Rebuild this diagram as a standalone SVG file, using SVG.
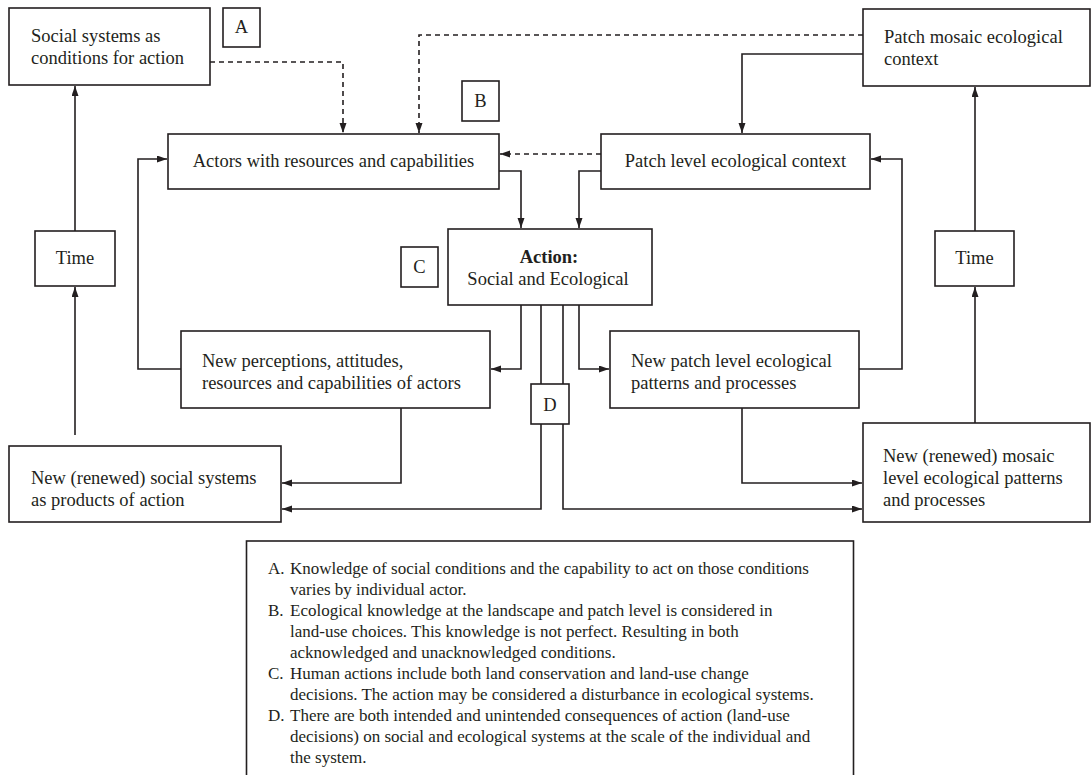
<svg xmlns="http://www.w3.org/2000/svg" width="1091" height="775" viewBox="0 0 1091 775">
<defs>
<style>
.box{fill:#fff;stroke:#231f20;stroke-width:1.6}
.t{font-family:"Liberation Serif","Times New Roman",serif;font-size:18.5px;fill:#231f20}
.c{text-anchor:middle}
.b{font-weight:bold}
.n{font-family:"Liberation Serif","Times New Roman",serif;font-size:17px;fill:#231f20}
.ln{fill:none;stroke:#231f20;stroke-width:1.6}
.dash{stroke-dasharray:5 4}
</style>
<marker id="ah" markerUnits="userSpaceOnUse" markerWidth="11" markerHeight="8" refX="10" refY="3.5" orient="auto">
<path d="M0,0 L10,3.5 L0,7 z" fill="#231f20"/>
</marker>
</defs>
<rect width="1091" height="775" fill="#fff"/>
<g id="connectors">
<path class="ln dash" d="M210,62 H343 V133" marker-end="url(#ah)"/>
<path class="ln dash" d="M863,35 H419 V133" marker-end="url(#ah)"/>
<path class="ln dash" d="M601,154 H500" marker-end="url(#ah)"/>
<path class="ln" d="M863,54 H742 V133" marker-end="url(#ah)"/>
<path class="ln" d="M499,171 H521 V228" marker-end="url(#ah)"/>
<path class="ln" d="M601,171 H579 V228" marker-end="url(#ah)"/>
<path class="ln" d="M521,305 V369 H491" marker-end="url(#ah)"/>
<path class="ln" d="M579,305 V369 H609" marker-end="url(#ah)"/>
<path class="ln" d="M541,305 V509 H282" marker-end="url(#ah)"/>
<path class="ln" d="M563,305 V509 H862" marker-end="url(#ah)"/>
<path class="ln" d="M181,369 H138 V159 H167" marker-end="url(#ah)"/>
<path class="ln" d="M859,369 H902 V159 H871" marker-end="url(#ah)"/>
<path class="ln" d="M401,408 V483 H282" marker-end="url(#ah)"/>
<path class="ln" d="M742,408 V483 H862" marker-end="url(#ah)"/>
<path class="ln" d="M75,231 V86" marker-end="url(#ah)"/>
<path class="ln" d="M75,435 V287" marker-end="url(#ah)"/>
<path class="ln" d="M975,423 V287" marker-end="url(#ah)"/>
<path class="ln" d="M975,231 V87" marker-end="url(#ah)"/>
</g>
<g id="social-conditions">
<rect class="box" x="9" y="8" width="201" height="77"/>
<text class="t" x="31" y="42">Social systems as</text>
<text class="t" x="31" y="64">conditions for action</text>
</g>
<g id="label-a">
<rect class="box" x="223" y="8" width="37" height="39"/>
<text class="t c" x="241.5" y="33">A</text>
</g>
<g id="patch-mosaic">
<rect class="box" x="863" y="9" width="227" height="77"/>
<text class="t" x="884" y="43">Patch mosaic ecological</text>
<text class="t" x="884" y="65">context</text>
</g>
<g id="label-b">
<rect class="box" x="462" y="81" width="37" height="40"/>
<text class="t c" x="480.5" y="107">B</text>
</g>
<g id="actors">
<rect class="box" x="168" y="134" width="331" height="55"/>
<text class="t c" x="333.5" y="167">Actors with resources and capabilities</text>
</g>
<g id="patch-level">
<rect class="box" x="601" y="134" width="269" height="55"/>
<text class="t c" x="735.5" y="167">Patch level ecological context</text>
</g>
<g id="time-left">
<rect class="box" x="35" y="231" width="80" height="55"/>
<text class="t c" x="75" y="264">Time</text>
</g>
<g id="time-right">
<rect class="box" x="935" y="231" width="79" height="55"/>
<text class="t c" x="974.5" y="264">Time</text>
</g>
<g id="action">
<rect class="box" x="448" y="229" width="204" height="76"/>
<text class="t c b" x="549" y="263">Action:</text>
<text class="t c" x="548" y="285">Social and Ecological</text>
</g>
<g id="label-c">
<rect class="box" x="401" y="247" width="37" height="40"/>
<text class="t c" x="419.5" y="273">C</text>
</g>
<g id="new-perceptions">
<rect class="box" x="181" y="331" width="309" height="77"/>
<text class="t" x="202" y="367">New perceptions, attitudes,</text>
<text class="t" x="202" y="389">resources and capabilities of actors</text>
</g>
<g id="new-patch">
<rect class="box" x="610" y="331" width="249" height="77"/>
<text class="t" x="631" y="367">New patch level ecological</text>
<text class="t" x="631" y="389">patterns and processes</text>
</g>
<g id="label-d">
<rect class="box" x="531" y="384" width="38" height="40"/>
<text class="t c" x="550" y="411">D</text>
</g>
<g id="new-social">
<rect class="box" x="9" y="446" width="272" height="76"/>
<text class="t" x="31" y="484">New (renewed) social systems</text>
<text class="t" x="31" y="506">as products of action</text>
</g>
<g id="new-mosaic">
<rect class="box" x="863" y="423" width="227" height="99"/>
<text class="t" x="883" y="462">New (renewed) mosaic</text>
<text class="t" x="883" y="484">level ecological patterns</text>
<text class="t" x="883" y="506">and processes</text>
</g>
<g id="notes">
<rect class="box" x="246.5" y="541" width="607" height="260"/>
<text class="n" x="268" y="574">A.</text>
<text class="n" x="290" y="574">Knowledge of social conditions and the capability to act on those conditions</text>
<text class="n" x="290" y="595">varies by individual actor.</text>
<text class="n" x="268" y="616">B.</text>
<text class="n" x="290" y="616">Ecological knowledge at the landscape and patch level is considered in</text>
<text class="n" x="290" y="637">land-use choices. This knowledge is not perfect. Resulting in both</text>
<text class="n" x="290" y="658">acknowledged and unacknowledged conditions.</text>
<text class="n" x="268" y="679">C.</text>
<text class="n" x="290" y="679">Human actions include both land conservation and land-use change</text>
<text class="n" x="290" y="700">decisions. The action may be considered a disturbance in ecological systems.</text>
<text class="n" x="268" y="721">D.</text>
<text class="n" x="290" y="721">There are both intended and unintended consequences of action (land-use</text>
<text class="n" x="290" y="742">decisions) on social and ecological systems at the scale of the individual and</text>
<text class="n" x="290" y="763">the system.</text>
</g>
</svg>
